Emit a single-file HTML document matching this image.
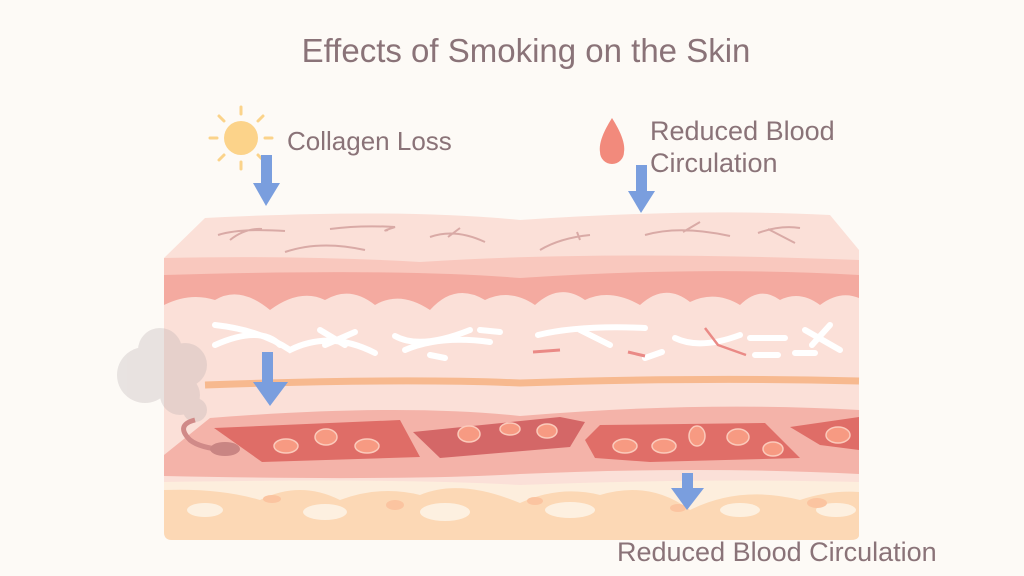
<!DOCTYPE html><html><head><meta charset="utf-8"><style>body{margin:0;background:#fdfaf6}svg{display:block}text{font-family:"Liberation Sans",sans-serif;fill:#8a7378}</style></head><body>
<svg width="1024" height="576" viewBox="0 0 1024 576">
<rect width="1024" height="576" fill="#fdfaf6"/>
<text x="526" y="62" font-size="33" text-anchor="middle">Effects of Smoking on the Skin</text>
<text x="287" y="150" font-size="26">Collagen Loss</text>
<text x="650" y="140" font-size="27">Reduced Blood</text>
<text x="650" y="172" font-size="27">Circulation</text>
<text x="617" y="561" font-size="27">Reduced Blood Circulation</text>
<!-- sun -->
<g stroke="#fbd38a" stroke-width="3" stroke-linecap="round">
<line x1="241" y1="107" x2="241" y2="114"/><line x1="241" y1="162" x2="241" y2="169"/>
<line x1="210" y1="138" x2="217" y2="138"/><line x1="265" y1="138" x2="272" y2="138"/>
<line x1="219" y1="116" x2="224" y2="121"/><line x1="258" y1="155" x2="263" y2="160"/>
<line x1="263" y1="116" x2="258" y2="121"/><line x1="224" y1="155" x2="219" y2="160"/></g>
<circle cx="241" cy="138" r="17" fill="#fcd38a"/>
<path d="M612 118 Q598 140 600 152 A12 12 0 0 0 624 152 Q626 140 612 118Z" fill="#f28a7c"/>
<!-- skin block -->
<path d="M205 218 Q400 208 520 220 Q700 208 830 215 L859 250 L859 535 Q859 540 850 540 L172 540 Q164 540 164 532 L164 258 Z" fill="#fbe0d8"/>
<g stroke="#d9aaa6" stroke-width="2" fill="none">
<path d="M218 235 Q240 228 285 231 M230 240 Q245 228 262 229"/><path d="M285 252 Q320 240 365 250"/>
<path d="M330 229 Q360 225 395 227 Q380 232 388 230"/><path d="M430 237 Q455 228 485 242 M460 228 L448 237"/>
<path d="M540 250 Q560 238 590 235 M577 232 L580 240"/><path d="M645 235 Q680 225 730 236 M700 222 L683 232"/><path d="M758 233 Q780 225 800 228 M768 229 L795 243"/>
</g>
<path d="M164 258 Q300 255 420 262 Q600 250 859 260 L859 280 L164 280Z" fill="#f9c8be"/>
<path d="M164 275 Q400 268 520 278 Q700 266 859 275 L859 298 Q840 290 820 305 Q800 290 780 300 Q760 285 740 305 Q715 290 690 302 Q665 282 640 305 Q610 288 585 300 Q560 282 535 305 Q510 288 485 300 Q455 282 430 310 Q400 290 375 305 Q350 285 325 300 Q300 288 270 310 Q240 285 215 300 Q190 292 164 305Z" fill="#f4aaa0"/>
<!-- collagen -->
<g stroke="#fff" stroke-width="6" stroke-linecap="round" fill="none">
<path d="M215 325 Q260 330 290 350 Q330 330 375 353"/><path d="M215 345 Q260 325 280 345"/><path d="M320 330 L345 345 M325 345 L355 332"/>
<path d="M395 336 Q420 350 470 330 M405 350 Q440 335 490 342 M430 355 L445 358 M480 330 L500 332"/>
<path d="M538 335 Q580 325 645 328 M580 330 L610 345 M645 358 L662 352"/>
<path d="M675 338 Q700 350 740 335 M750 338 L785 338 M755 355 L778 355 M805 330 L840 350 M812 345 L830 325 M795 353 L815 353"/>
</g>
<path d="M705 328 L718 345 L746 355" stroke="#ea8a86" stroke-width="2.5" fill="none"/>
<path d="M533 352 L560 350 M628 352 L645 356" stroke="#ea8a86" stroke-width="3"/>
<path d="M205 385 Q400 378 520 383 Q700 377 859 381" stroke="#f7b98f" stroke-width="7" fill="none"/>
<!-- vessels -->
<path d="M210 418 Q400 403 520 416 Q700 401 859 410 L859 474 Q700 466 520 474 Q400 481 164 476 L164 455 Z" fill="#f4b3a9"/>
<path d="M214 428 L400 420 L420 457 L262 462 Z" fill="#df6d67"/>
<path d="M413 432 L560 417 L585 422 L570 447 L440 458 Z" fill="#d46767"/>
<path d="M585 440 L600 425 L765 423 L800 458 L650 462 L595 458 Z" fill="#e06e68"/>
<path d="M790 427 L859 417 L859 450 L820 445 Z" fill="#df6d67"/>
<g fill="#f79a82" stroke="#fbcabb" stroke-width="1.5">
<ellipse cx="286" cy="446" rx="12" ry="7"/><ellipse cx="326" cy="437" rx="11" ry="8"/><ellipse cx="367" cy="446" rx="12" ry="7"/>
<ellipse cx="469" cy="434" rx="11" ry="8"/><ellipse cx="510" cy="429" rx="10" ry="6"/><ellipse cx="547" cy="431" rx="10" ry="7"/>
<ellipse cx="625" cy="446" rx="12" ry="7"/><ellipse cx="664" cy="446" rx="12" ry="7"/><ellipse cx="697" cy="436" rx="8" ry="10"/><ellipse cx="738" cy="437" rx="11" ry="8"/><ellipse cx="773" cy="449" rx="10" ry="7"/><ellipse cx="838" cy="435" rx="12" ry="8"/></g>
<!-- fat -->
<path d="M164 482 Q400 478 520 485 Q700 478 859 482 L859 535 Q859 540 850 540 L172 540 Q164 540 164 532Z" fill="#fdeedd"/>
<path d="M164 490 Q220 488 260 500 Q300 480 340 500 Q380 485 420 495 Q460 478 520 503 Q560 485 600 495 Q650 480 690 510 Q740 485 800 500 Q830 490 859 492 L859 535 Q859 540 850 540 L172 540 Q164 540 164 532Z" fill="#fcd8b5"/>
<g fill="#fdf0e0"><ellipse cx="205" cy="510" rx="18" ry="7"/><ellipse cx="325" cy="512" rx="22" ry="8"/><ellipse cx="445" cy="512" rx="25" ry="9"/><ellipse cx="570" cy="510" rx="25" ry="8"/><ellipse cx="740" cy="510" rx="20" ry="7"/><ellipse cx="836" cy="510" rx="20" ry="7"/></g>
<g fill="#fbc4a0"><ellipse cx="272" cy="499" rx="9" ry="4"/><ellipse cx="395" cy="505" rx="9" ry="5"/><ellipse cx="535" cy="501" rx="8" ry="4"/><ellipse cx="678" cy="508" rx="8" ry="4"/><ellipse cx="817" cy="503" rx="10" ry="5"/></g>
<!-- smoke -->
<g fill="#b9aeae" opacity="0.3"><circle cx="160" cy="350" r="22"/><circle cx="145" cy="375" r="28"/><circle cx="185" cy="365" r="22"/><circle cx="180" cy="395" r="20"/><circle cx="195" cy="410" r="12"/></g>
<path d="M195 420 Q175 425 190 440 Q200 448 225 450" stroke="#d08a88" stroke-width="5" fill="none"/>
<ellipse cx="225" cy="449" rx="15" ry="7" fill="#c98583"/>
<!-- arrows -->
<g fill="#7a9ede">
<rect x="261" y="155" width="11" height="30"/><path d="M253 183 L280 183 L266 206Z"/>
<rect x="636" y="165" width="11" height="28"/><path d="M628 191 L655 191 L641 213Z"/>
<rect x="262" y="352" width="11" height="32"/><path d="M253 382 L288 382 L270 406Z"/>
<rect x="682" y="473" width="11" height="17"/><path d="M671 488 L704 488 L687 510Z"/>
</g>
</svg></body></html>
